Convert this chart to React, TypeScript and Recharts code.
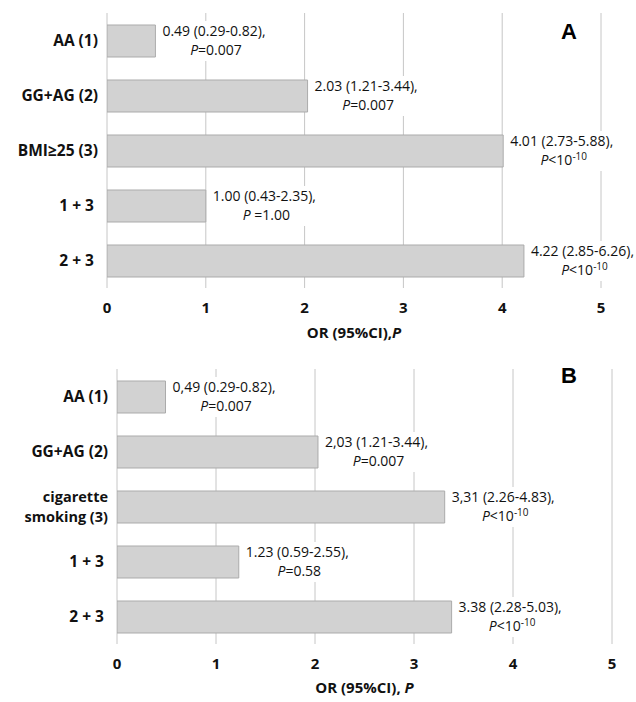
import React from 'react';
import { BarChart, Bar, XAxis, YAxis, CartesianGrid, LabelList, Label } from 'recharts';

// Panel A data
const categoriesA = ['AA (1)', 'GG+AG (2)', 'BMI≥25 (3)', '1 + 3 ', '2 + 3 '];
const orA = [0.49, 2.03, 4.01, 1.0, 4.22];
const ciA = ['0.49 (0.29-0.82),', '2.03 (1.21-3.44),', '4.01 (2.73-5.88),', '1.00 (0.43-2.35),', '4.22 (2.85-6.26),'];
const pA = ['=0.007', '=0.007', '<10', ' =1.00', '<10'];
const expA = ['', '', '-10', '', '-10'];

// Panel B data
const categoriesB = ['AA (1)', 'GG+AG (2)', 'cigarette\nsmoking (3)', '1 + 3 ', '2 + 3 '];
const orB = [0.49, 2.03, 3.31, 1.23, 3.38];
const ciB = ['0,49 (0.29-0.82),', '2,03 (1.21-3.44),', '3,31 (2.26-4.83),', '1.23 (0.59-2.55),', '3.38 (2.28-5.03),'];
const pB = ['=0.007', '=0.007', '<10', '=0.58', '<10'];
const expB = ['', '', '-10', '', '-10'];

const xTicks = [0, 1, 2, 3, 4, 5];

const dataA = categoriesA.map((name, i) => ({ name, value: orA[i] }));
const dataB = categoriesB.map((name, i) => ({ name, value: orB[i] }));

const FONT = '"Open Sans", sans-serif';
const TEXT = '#111';
const BAR_FILL = '#d2d2d2';
const BAR_STROKE = '#ababab';
const GRID = '#c6c6c6';

function CategoryTick(props: any) {
  const { x, y, payload } = props;
  const lines = String(payload.value).split('\n');
  const lh = 20;
  const fs = lines.length > 1 ? 14.5 : 15.5;
  const start = -((lines.length - 1) * lh) / 2;
  return (
    <g>
      {lines.map((l, i) => (
        <text
          key={i}
          x={x}
          y={y + start + i * lh}
          dy="0.35em"
          textAnchor="end"
          fontFamily={FONT}
          fontWeight={700}
          fontSize={fs}
          fill={TEXT}
          style={{ whiteSpace: 'pre' }}
        >
          {l}
        </text>
      ))}
    </g>
  );
}

function makeValueLabel(ci: string[], p: string[], exp: string[]) {
  return (props: any) => {
    const { x, y, width, height, index } = props;
    const x0 = Number(x) + Number(width) + 7;
    const cy = Number(y) + Number(height) / 2;
    const w = ci[index].length * 6.3;
    const cx = x0 + w / 2;
    return (
      <g>
        <rect x={x0 - 3} y={cy - 20} width={w + 6} height={40} fill="#ffffff" />
        <text x={x0} y={cy - 9.5} dy="0.35em" fontFamily={FONT} fontSize={14} fill={TEXT}>
          {ci[index]}
        </text>
        <text
          x={cx}
          y={cy + 9.5}
          dy="0.35em"
          textAnchor="middle"
          fontFamily={FONT}
          fontSize={14}
          fill={TEXT}
          style={{ whiteSpace: 'pre' }}
        >
          <tspan fontStyle="italic">P</tspan>
          <tspan>{p[index]}</tspan>
          {exp[index] ? (
            <tspan dy={-5} fontSize={10}>
              {exp[index]}
            </tspan>
          ) : null}
        </text>
      </g>
    );
  };
}

function makeTitle(space: boolean, off: number) {
  return (props: any) => {
    const vb = props.viewBox || {};
    const cx = vb.x + vb.width / 2;
    const ty = vb.y + off;
    return (
      <text
        x={cx}
        y={ty}
        dy="0.35em"
        textAnchor="middle"
        fontFamily={FONT}
        fontWeight={700}
        fontSize={15}
        fill={TEXT}
        style={{ whiteSpace: 'pre' }}
      >
        <tspan>{space ? 'OR (95%CI), ' : 'OR (95%CI),'}</tspan>
        <tspan fontStyle="italic">P</tspan>
      </text>
    );
  };
}

function Panel(props: {
  data: any[];
  ci: string[];
  p: string[];
  exp: string[];
  height: number;
  margin: any;
  yWidth: number;
  xHeight: number;
  titleSpace: boolean;
  titleOff: number;
}) {
  const { data, ci, p, exp, height, margin, yWidth, xHeight, titleSpace, titleOff } = props;
  return (
    <BarChart width={636} height={height} data={data} layout="vertical" margin={margin}>
      <CartesianGrid horizontal={false} vertical={true} stroke={GRID} strokeWidth={1} />
      <XAxis
        type="number"
        domain={[0, 5]}
        ticks={xTicks}
        allowDataOverflow
        axisLine={false}
        tickLine={false}
        tickSize={0}
        tickMargin={14}
        height={xHeight}
        tick={{ fontFamily: FONT, fontWeight: 700, fontSize: 15, fill: TEXT }}
      >
        <Label content={makeTitle(titleSpace, titleOff)} />
      </XAxis>
      <YAxis
        type="category"
        dataKey="name"
        width={yWidth}
        axisLine={false}
        tickLine={false}
        tickSize={0}
        tickMargin={9}
        interval={0}
        tick={<CategoryTick />}
      />
      <Bar
        dataKey="value"
        fill={BAR_FILL}
        stroke={BAR_STROKE}
        strokeWidth={1}
        barSize={32}
        isAnimationActive={false}
      >
        <LabelList dataKey="value" content={makeValueLabel(ci, p, exp)} />
      </Bar>
    </BarChart>
  );
}

export default function App() {
  return (
    <div
      style={{
        position: 'absolute',
        left: 0,
        top: 0,
        width: 636,
        height: 702,
        background: '#ffffff',
        overflow: 'hidden',
      }}
    >
      <div style={{ position: 'absolute', left: 0, top: 0 }}>
        <Panel
          data={dataA}
          ci={ciA}
          p={pA}
          exp={expA}
          height={345}
          margin={{ top: 13, right: 35, bottom: 0, left: 0 }}
          yWidth={107}
          xHeight={57}
          titleSpace={false}
          titleOff={45}
        />
      </div>
      <div style={{ position: 'absolute', left: 0, top: 340 }}>
        <Panel
          data={dataB}
          ci={ciB}
          p={pB}
          exp={expB}
          height={362}
          margin={{ top: 29, right: 24, bottom: 0, left: 0 }}
          yWidth={117}
          xHeight={58}
          titleSpace={true}
          titleOff={44}
        />
      </div>
      <svg
        width={636}
        height={702}
        style={{ position: 'absolute', left: 0, top: 0, pointerEvents: 'none' }}
      >
        <text
          x={569}
          y={31}
          dy="0.35em"
          textAnchor="middle"
          fontFamily='"Liberation Sans", Arial, sans-serif'
          fontWeight={700}
          fontSize={22}
          fill="#000"
        >
          A
        </text>
        <text
          x={569}
          y={375}
          dy="0.35em"
          textAnchor="middle"
          fontFamily='"Liberation Sans", Arial, sans-serif'
          fontWeight={700}
          fontSize={22}
          fill="#000"
        >
          B
        </text>
      </svg>
    </div>
  );
}
